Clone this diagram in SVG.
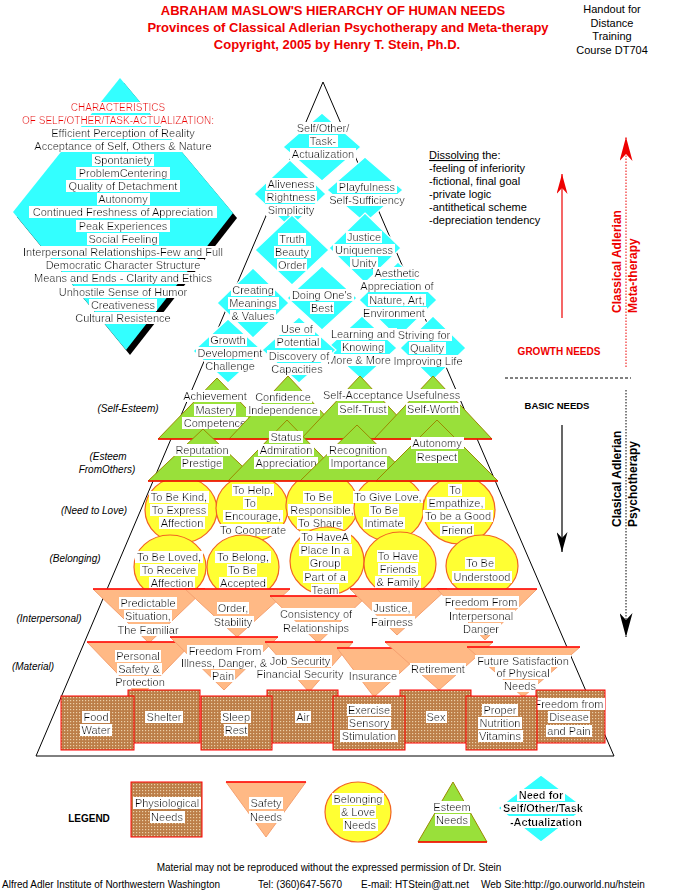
<svg xmlns="http://www.w3.org/2000/svg" width="678" height="890" viewBox="0 0 678 890">
<defs>
<style>
text{font-family:"Liberation Sans",Arial,Helvetica,sans-serif;}
.t{font-size:11px;text-anchor:middle;fill:#000;filter:url(#wb);}
.rt{font-size:10px;text-anchor:middle;fill:#E00;filter:url(#wb);}
.n{font-size:11px;fill:#000;}
.lab{font-size:10px;font-style:italic;text-anchor:middle;fill:#000;}
.h{font-size:13px;font-weight:bold;fill:#E00;text-anchor:middle;}
.ho{font-size:11px;text-anchor:middle;fill:#000;}
.bt{font-weight:bold;}
.cy{fill:#33FFFF;stroke:#fff;stroke-width:1.2;}
.gr{fill:#99E03A;stroke:#9A8A00;stroke-width:1;}
.yl{fill:#FFFF33;stroke:#F26522;stroke-width:1.2;}
.pe{fill:#FFB985;stroke:#F5A070;stroke-width:1;}
.rl{stroke:#F00;stroke-width:1.5;fill:none;}
.ph{fill:url(#dots);stroke:#F00;stroke-width:1;}
.ln{stroke:#000;stroke-width:1;fill:none;}
.dot{stroke-dasharray:1.5 1.5;}
.ft{font-size:10px;fill:#000;}
</style>
<filter id="wb" x="-0.02" y="0" width="1.04" height="1"><feFlood flood-color="#fff"/><feComposite in="SourceGraphic"/></filter>
<pattern id="dots" width="3" height="3" patternUnits="userSpaceOnUse"><rect width="3" height="3" fill="#BC7E48"/><rect x="1" y="1" width="1.2" height="1.2" fill="#EBCFA8"/></pattern>
<marker id="arR" viewBox="0 0 20 11" refX="20" refY="5.5" markerWidth="20" markerHeight="11" orient="auto" markerUnits="userSpaceOnUse"><path d="M0,0 L20,5.5 L0,11 L6,5.5 z" fill="#E00"/></marker>
<marker id="arR2" viewBox="0 0 24 13" refX="24" refY="6.5" markerWidth="24" markerHeight="13" orient="auto" markerUnits="userSpaceOnUse"><path d="M0,0 L24,6.5 L0,13 L7,6.5 z" fill="#E00"/></marker>
<marker id="arK" viewBox="0 0 20 11" refX="20" refY="5.5" markerWidth="20" markerHeight="11" orient="auto" markerUnits="userSpaceOnUse"><path d="M0,0 L20,5.5 L0,11 L6,5.5 z" fill="#000"/></marker>
<marker id="arK2" viewBox="0 0 24 13" refX="24" refY="6.5" markerWidth="24" markerHeight="13" orient="auto" markerUnits="userSpaceOnUse"><path d="M0,0 L24,6.5 L0,13 L7,6.5 z" fill="#000"/></marker>
</defs>
<rect width="678" height="890" fill="#fff"/>

<g id="header">
<text x="333" y="15" class="h">ABRAHAM MASLOW'S HIERARCHY OF HUMAN NEEDS</text>
<text x="348" y="32" class="h">Provinces of Classical Adlerian Psychotherapy and Meta-therapy</text>
<text x="337" y="49" class="h">Copyright, 2005 by Henry T. Stein, Ph.D.</text>
<text x="612" y="13" class="ho">Handout for</text>
<text x="612" y="27" class="ho">Distance</text>
<text x="612" y="40" class="ho">Training</text>
<text x="612" y="54" class="ho">Course DT704</text>
</g>

<g id="pyramid">
<polygon points="323,82 36,756 614,756" class="ln"/>
</g>

<g id="characteristics">
<polygon points="124,83 237,218 130,355 17,217" fill="#000"/>
<polygon points="120,78 233,213 126,350 13,212" fill="#33FFFF"/>
<text x="118" y="111" class="rt">CHARACTERISTICS</text>
<text x="118" y="124" class="rt">OF SELF/OTHER/TASK-ACTUALIZATION:</text>
<text x="123" y="137" class="t">Efficient Perception of Reality</text>
<text x="123" y="150" class="t">Acceptance of Self, Others &amp; Nature</text>
<text x="123" y="164" class="t">Spontaniety</text>
<text x="123" y="177" class="t">ProblemCentering</text>
<text x="123" y="190" class="t">Quality of Detachment</text>
<text x="123" y="203" class="t">Autonomy</text>
<text x="123" y="216" class="t">Continued Freshness of Appreciation</text>
<text x="123" y="230" class="t">Peak Experiences</text>
<text x="123" y="243" class="t">Social Feeling</text>
<text x="123" y="256" class="t">Interpersonal Relationships-Few and Full</text>
<text x="123" y="269" class="t">Democratic Character Structure</text>
<text x="123" y="282" class="t">Means and Ends - Clarity and Ethics</text>
<text x="123" y="296" class="t">Unhostile Sense of Humor</text>
<text x="123" y="309" class="t">Creativeness</text>
<text x="123" y="322" class="t">Cultural Resistence</text>
</g>

<g id="sa-actualization">
<polygon points="322,113 361,147 322,181 283,147" class="cy"/>
<text x="323" y="132" class="t">Self/Other/</text>
<text x="323" y="145" class="t">Task-</text>
<text x="323" y="158" class="t">Actualization</text>
</g>
<g id="sa-aliveness">
<polygon points="290,160 326,194 290,228 254,194" class="cy"/>
<text x="291" y="188" class="t">Aliveness</text>
<text x="291" y="201" class="t">Rightness</text>
<text x="291" y="214" class="t">Simplicity</text>
</g>
<g id="sa-playfulness">
<polygon points="365,157 403,190 365,223 327,190" class="cy"/>
<text x="367" y="191" class="t">Playfulness</text>
<text x="367" y="204" class="t">Self-Sufficiency</text>
</g>
<g id="sa-truth">
<polygon points="292,215 329,250 292,285 255,250" class="cy"/>
<text x="292" y="243" class="t">Truth</text>
<text x="292" y="256" class="t">Beauty</text>
<text x="292" y="269" class="t">Order</text>
</g>
<g id="sa-justice">
<polygon points="365,213 401,248 365,283 329,248" class="cy"/>
<text x="364" y="241" class="t">Justice</text>
<text x="364" y="254" class="t">Uniqueness</text>
<text x="364" y="267" class="t">Unity</text>
</g>
<g id="sa-creating">
<polygon points="253,268 289,303 253,338 217,303" class="cy"/>
<text x="253" y="294" class="t">Creating</text>
<text x="253" y="307" class="t">Meanings</text>
<text x="253" y="320" class="t">&amp; Values</text>
</g>
<g id="sa-doing">
<polygon points="322,266 357,298 322,330 287,298" class="cy"/>
<text x="322" y="299" class="t">Doing One's</text>
<text x="322" y="312" class="t">Best</text>
</g>
<g id="sa-aesthetic">
<polygon points="398,262 437,300 398,338 359,300" class="cy"/>
<text x="397" y="277" class="t">Aesthetic</text>
<text x="397" y="290" class="t">Appreciation of</text>
<text x="397" y="304" class="t">Nature, Art,</text>
<text x="394" y="317" class="t">Environment</text>
</g>
<g id="sa-growth">
<polygon points="228,319 263,351 228,383 193,351" class="cy"/>
<text x="228" y="344" class="t">Growth</text>
<text x="230" y="357" class="t">Development</text>
<text x="230" y="370" class="t">Challenge</text>
</g>
<g id="sa-learning">
<polygon points="362,316 397,348 362,380 327,348" class="cy"/>
<text x="363" y="338" class="t">Learning and</text>
<text x="363" y="351" class="t">Knowing</text>
<text x="359" y="364" class="t">More &amp; More</text>
</g>
<g id="sa-striving">
<polygon points="433,316 466,348 433,380 400,348" class="cy"/>
<text x="424" y="339" class="t">Striving for</text>
<text x="427" y="352" class="t">Quality</text>
<text x="428" y="365" class="t">Improving Life</text>
</g>
<g id="sa-potential">
<polygon points="299,317 336,350 299,383 262,350" class="cy"/>
<text x="297" y="333" class="t">Use of</text>
<text x="298" y="346" class="t">Potential</text>
<text x="299" y="360" class="t">Discovery of</text>
<text x="297" y="373" class="t">Capacities</text>
</g>

<g id="love-kind">
<ellipse cx="181" cy="510" rx="36" ry="33" class="yl"/>
<text x="179" y="501" class="t">To Be Kind,</text>
<text x="179" y="514" class="t">To Express</text>
<text x="182" y="527" class="t">Affection</text>
</g>
<g id="love-help">
<ellipse cx="252" cy="508" rx="36" ry="33" class="yl"/>
<text x="253" y="494" class="t">To Help,</text>
<text x="250" y="507" class="t">To</text>
<text x="253" y="520" class="t">Encourage,</text>
<text x="253" y="534" class="t">To Cooperate</text>
</g>
<g id="love-responsible">
<ellipse cx="322" cy="505" rx="36" ry="33" class="yl"/>
<text x="318" y="501" class="t">To Be</text>
<text x="322" y="514" class="t">Responsible,</text>
<text x="320" y="527" class="t">To Share</text>
</g>
<g id="love-give">
<ellipse cx="389" cy="508" rx="35" ry="33" class="yl"/>
<text x="388" y="501" class="t">To Give Love,</text>
<text x="384" y="514" class="t">To Be</text>
<text x="384" y="527" class="t">Intimate</text>
</g>
<g id="love-empathize">
<ellipse cx="459" cy="510" rx="36" ry="34" class="yl"/>
<text x="455" y="494" class="t">To</text>
<text x="456" y="507" class="t">Empathize,</text>
<text x="458" y="520" class="t">To be a Good</text>
<text x="457" y="534" class="t">Friend</text>
</g>
<g id="love-loved">
<ellipse cx="170" cy="567" rx="36" ry="32" class="yl"/>
<text x="169" y="561" class="t">To Be Loved,</text>
<text x="169" y="574" class="t">To Receive</text>
<text x="172" y="587" class="t">Affection</text>
</g>
<g id="love-belong">
<ellipse cx="243" cy="567" rx="36" ry="32" class="yl"/>
<text x="243" y="561" class="t">To Belong,</text>
<text x="242" y="574" class="t">To Be</text>
<text x="243" y="587" class="t">Accepted</text>
</g>
<g id="love-place">
<ellipse cx="327" cy="561" rx="37" ry="34" class="yl"/>
<text x="325" y="541" class="t">To HaveA</text>
<text x="325" y="554" class="t">Place In a</text>
<text x="325" y="567" class="t">Group</text>
<text x="325" y="581" class="t">Part of a</text>
<text x="325" y="594" class="t">Team</text>
</g>
<g id="love-friends">
<ellipse cx="400" cy="564" rx="36" ry="32" class="yl"/>
<text x="398" y="560" class="t">To Have</text>
<text x="398" y="573" class="t">Friends</text>
<text x="398" y="586" class="t">&amp; Family</text>
</g>
<g id="love-understood">
<ellipse cx="482" cy="566" rx="36" ry="31" class="yl"/>
<text x="480" y="567" class="t">To Be</text>
<text x="482" y="581" class="t">Understood</text>
</g>

<g id="se-achievement">
<polygon points="217,378 276,439 158,439" class="gr"/>
<text x="215" y="400" class="t">Achievement</text>
<text x="215" y="414" class="t">Mastery</text>
<text x="215" y="427" class="t">Competence</text>
</g>
<g id="se-confidence">
<polygon points="288,376 347,439 229,439" class="gr"/>
<text x="283" y="401" class="t">Confidence</text>
<text x="283" y="414" class="t">Independence</text>
</g>
<g id="se-acceptance">
<polygon points="360,376 419,439 301,439" class="gr"/>
<text x="363" y="399" class="t">Self-Acceptance</text>
<text x="363" y="413" class="t">Self-Trust</text>
</g>
<g id="se-usefulness">
<polygon points="433,376 492,439 374,439" class="gr"/>
<text x="433" y="399" class="t">Usefulness</text>
<text x="433" y="413" class="t">Self-Worth</text>
</g>
<line x1="158" y1="439" x2="492" y2="439" class="rl"/>

<g id="eo-reputation">
<polygon points="203,429 258,481 148,481" class="gr"/>
<text x="202" y="454" class="t">Reputation</text>
<text x="202" y="467" class="t">Prestige</text>
</g>
<g id="eo-status">
<polygon points="287,420 346,481 228,481" class="gr"/>
<text x="286" y="441" class="t">Status</text>
<text x="286" y="454" class="t">Admiration</text>
<text x="286" y="467" class="t">Appreciation</text>
</g>
<g id="eo-recognition">
<polygon points="357,425 414,481 300,481" class="gr"/>
<text x="358" y="454" class="t">Recognition</text>
<text x="358" y="467" class="t">Importance</text>
</g>
<g id="eo-autonomy">
<polygon points="437,420 498,481 376,481" class="gr"/>
<text x="437" y="447" class="t">Autonomy</text>
<text x="437" y="461" class="t">Respect</text>
</g>
<line x1="148" y1="481" x2="498" y2="481" class="rl"/>

<g id="ip-predictable">
<polygon points="93,589 205,589 149,643" class="pe"/>
<line x1="93" y1="589" x2="205" y2="589" class="rl"/>
<text x="148" y="607" class="t">Predictable</text>
<text x="148" y="620" class="t">Situation,</text>
<text x="148" y="634" class="t">The Familiar</text>
</g>
<g id="ip-order">
<polygon points="185,589 290,589 237,637" class="pe"/>
<line x1="185" y1="589" x2="290" y2="589" class="rl"/>
<text x="233" y="612" class="t">Order,</text>
<text x="233" y="626" class="t">Stability</text>
</g>
<g id="ip-consistency">
<polygon points="270,596 367,596 318,643" class="pe"/>
<line x1="270" y1="596" x2="367" y2="596" class="rl"/>
<text x="316" y="618" class="t">Consistency of</text>
<text x="316" y="632" class="t">Relationships</text>
</g>
<g id="ip-justice">
<polygon points="350,589 447,589 397,635" class="pe"/>
<line x1="350" y1="589" x2="447" y2="589" class="rl"/>
<text x="392" y="612" class="t">Justice,</text>
<text x="392" y="626" class="t">Fairness</text>
</g>
<g id="ip-freedom">
<polygon points="437,589 537,589 485,640" class="pe"/>
<line x1="437" y1="589" x2="537" y2="589" class="rl"/>
<text x="481" y="606" class="t">Freedom From</text>
<text x="481" y="620" class="t">Interpersonal</text>
<text x="481" y="633" class="t">Danger</text>
</g>

<g id="ma-personal">
<polygon points="87,642 193,642 140,697" class="pe"/>
<line x1="87" y1="642" x2="193" y2="642" class="rl"/>
<text x="138" y="660" class="t">Personal</text>
<text x="139" y="673" class="t">Safety &amp;</text>
<text x="140" y="686" class="t">Protection</text>
</g>
<g id="ma-illness">
<polygon points="170,637 278,637 224,690" class="pe"/>
<line x1="170" y1="637" x2="278" y2="637" class="rl"/>
<text x="225" y="655" class="t">Freedom From</text>
<text x="224" y="667" class="t">Illness, Danger, &amp;</text>
<text x="223" y="680" class="t">Pain</text>
</g>
<g id="ma-job">
<polygon points="265,642 353,642 309,692" class="pe"/>
<line x1="265" y1="642" x2="353" y2="642" class="rl"/>
<text x="300" y="665" class="t">Job Security</text>
<text x="300" y="678" class="t">Financial Security</text>
</g>
<g id="ma-insurance">
<polygon points="337,648 427,648 374,697" class="pe"/>
<line x1="337" y1="648" x2="427" y2="648" class="rl"/>
<text x="373" y="680" class="t">Insurance</text>
</g>
<g id="ma-retirement">
<polygon points="385,642 493,642 439,690" class="pe"/>
<line x1="385" y1="642" x2="493" y2="642" class="rl"/>
<text x="438" y="673" class="t">Retirement</text>
</g>
<g id="ma-future">
<polygon points="467,647 580,647 523,697" class="pe"/>
<line x1="467" y1="647" x2="580" y2="647" class="rl"/>
<text x="523" y="665" class="t">Future Satisfaction</text>
<text x="523" y="677" class="t">of Physical</text>
<text x="520" y="690" class="t">Needs</text>
</g>

<g id="ph-shelter">
<rect x="128" y="690" width="72" height="53" class="ph"/>
<text x="164" y="721" class="t">Shelter</text>
</g>
<g id="ph-air">
<rect x="267" y="690" width="71" height="53" class="ph"/>
<text x="303" y="721" class="t">Air</text>
</g>
<g id="ph-sex">
<rect x="400" y="690" width="71" height="53" class="ph"/>
<text x="436" y="721" class="t">Sex</text>
</g>
<g id="ph-freedom">
<rect x="536" y="690" width="69" height="53" class="ph"/>
<text x="569" y="708" class="t">Freedom from</text>
<text x="569" y="721" class="t">Disease</text>
<text x="569" y="735" class="t">and Pain</text>
</g>
<g id="ph-food">
<rect x="61" y="696" width="73" height="54" class="ph"/>
<text x="96" y="721" class="t">Food</text>
<text x="96" y="734" class="t">Water</text>
</g>
<g id="ph-sleep">
<rect x="201" y="696" width="71" height="54" class="ph"/>
<text x="236" y="721" class="t">Sleep</text>
<text x="236" y="734" class="t">Rest</text>
</g>
<g id="ph-exercise">
<rect x="333" y="696" width="72" height="54" class="ph"/>
<text x="369" y="714" class="t">Exercise</text>
<text x="369" y="727" class="t">Sensory</text>
<text x="369" y="740" class="t">Stimulation</text>
</g>
<g id="ph-nutrition">
<rect x="466" y="696" width="71" height="54" class="ph"/>
<text x="500" y="714" class="t">Proper</text>
<text x="500" y="727" class="t">Nutrition</text>
<text x="500" y="740" class="t">Vitamins</text>
</g>

<g id="level-labels">
<text x="128" y="412" class="lab">(Self-Esteem)</text>
<text x="108" y="460" class="lab">(Esteem</text>
<text x="107" y="473" class="lab">FromOthers)</text>
<text x="94" y="514" class="lab">(Need to Love)</text>
<text x="75" y="562" class="lab">(Belonging)</text>
<text x="49" y="622" class="lab">(Interpersonal)</text>
<text x="33" y="670" class="lab">(Material)</text>
</g>

<g id="dissolving">
<text x="429" y="159" class="n"><tspan text-decoration="underline">Dissolving</tspan> the:</text>
<text x="429" y="172" class="n">-feeling of inferiority</text>
<text x="429" y="185" class="n">-fictional, final goal</text>
<text x="429" y="198" class="n">-private logic</text>
<text x="429" y="211" class="n">-antithetical scheme</text>
<text x="429" y="224" class="n">-depreciation tendency</text>
</g>

<g id="needs-labels">
<text x="559" y="355" font-size="10" font-weight="bold" fill="#E00" text-anchor="middle">GROWTH NEEDS</text>
<line x1="505" y1="378" x2="631" y2="378" class="ln" stroke-dasharray="3 2"/>
<text x="557" y="409" font-size="9.5" font-weight="bold" fill="#000" text-anchor="middle">BASIC NEEDS</text>
<text transform="translate(621,313) rotate(-90)" font-size="12" font-weight="bold" fill="#E00">Classical Adlerian</text>
<text transform="translate(637,313) rotate(-90)" font-size="12" font-weight="bold" fill="#E00">Meta-therapy</text>
<text transform="translate(621,527) rotate(-90)" font-size="12" font-weight="bold" fill="#000">Clasical Adlerian</text>
<text transform="translate(637,527) rotate(-90)" font-size="12" font-weight="bold" fill="#000">Psychotherapy</text>
</g>

<g id="connectors">
<line x1="562" y1="318" x2="562" y2="174" stroke="#E00" stroke-width="1.2" marker-end="url(#arR)"/>
<line x1="626" y1="367" x2="626" y2="137" stroke="#E00" stroke-width="1" class="dot" marker-end="url(#arR2)"/>
<line x1="562" y1="425" x2="562" y2="552" stroke="#000" stroke-width="1.2" marker-end="url(#arK)"/>
<line x1="626" y1="390" x2="626" y2="637" stroke="#000" stroke-width="1" class="dot" marker-end="url(#arK2)"/>
</g>

<g id="legend">
<text x="89" y="822" font-size="10" font-weight="bold" text-anchor="middle">LEGEND</text>
<g id="legend-physiological">
<rect x="131" y="782" width="71" height="55" class="ph"/>
<text x="167" y="807" class="t">Physiological</text>
<text x="167" y="821" class="t">Needs</text>
</g>
<g id="legend-safety">
<polygon points="226,782 306,782 266,837" class="pe"/>
<line x1="226" y1="782" x2="306" y2="782" class="rl"/>
<text x="266" y="807" class="t">Safety</text>
<text x="266" y="821" class="t">Needs</text>
</g>
<g id="legend-belonging">
<ellipse cx="358" cy="812" rx="33" ry="30" class="yl"/>
<text x="358" y="803" class="t">Belonging</text>
<text x="358" y="816" class="t">&amp; Love</text>
<text x="360" y="829" class="t">Needs</text>
</g>
<g id="legend-esteem">
<polygon points="453,782 487,842 418,842" class="gr"/>
<line x1="418" y1="842" x2="487" y2="842" class="rl"/>
<text x="452" y="811" class="t">Esteem</text>
<text x="452" y="824" class="t">Needs</text>
</g>
<g id="legend-actualization">
<polygon points="541,775 585,808 541,842 498,808" class="cy"/>
<text x="541" y="799" class="t bt">Need for</text>
<text x="543" y="812" class="t bt">Self/Other/Task</text>
<text x="546" y="826" class="t bt">-Actualization</text>
</g>
</g>

<g id="footer">
<text x="329" y="871" class="ft" text-anchor="middle">Material may not be reproduced without the expressed permission of Dr. Stein</text>
<text x="2" y="888" class="ft">Alfred Adler Institute of Northwestern Washington</text>
<text x="258" y="888" class="ft">Tel: (360)647-5670</text>
<text x="361" y="888" class="ft">E-mail: HTStein@att.net</text>
<text x="481" y="888" class="ft">Web Site:http://go.ourworld.nu/hstein</text>
</g>
</svg>
